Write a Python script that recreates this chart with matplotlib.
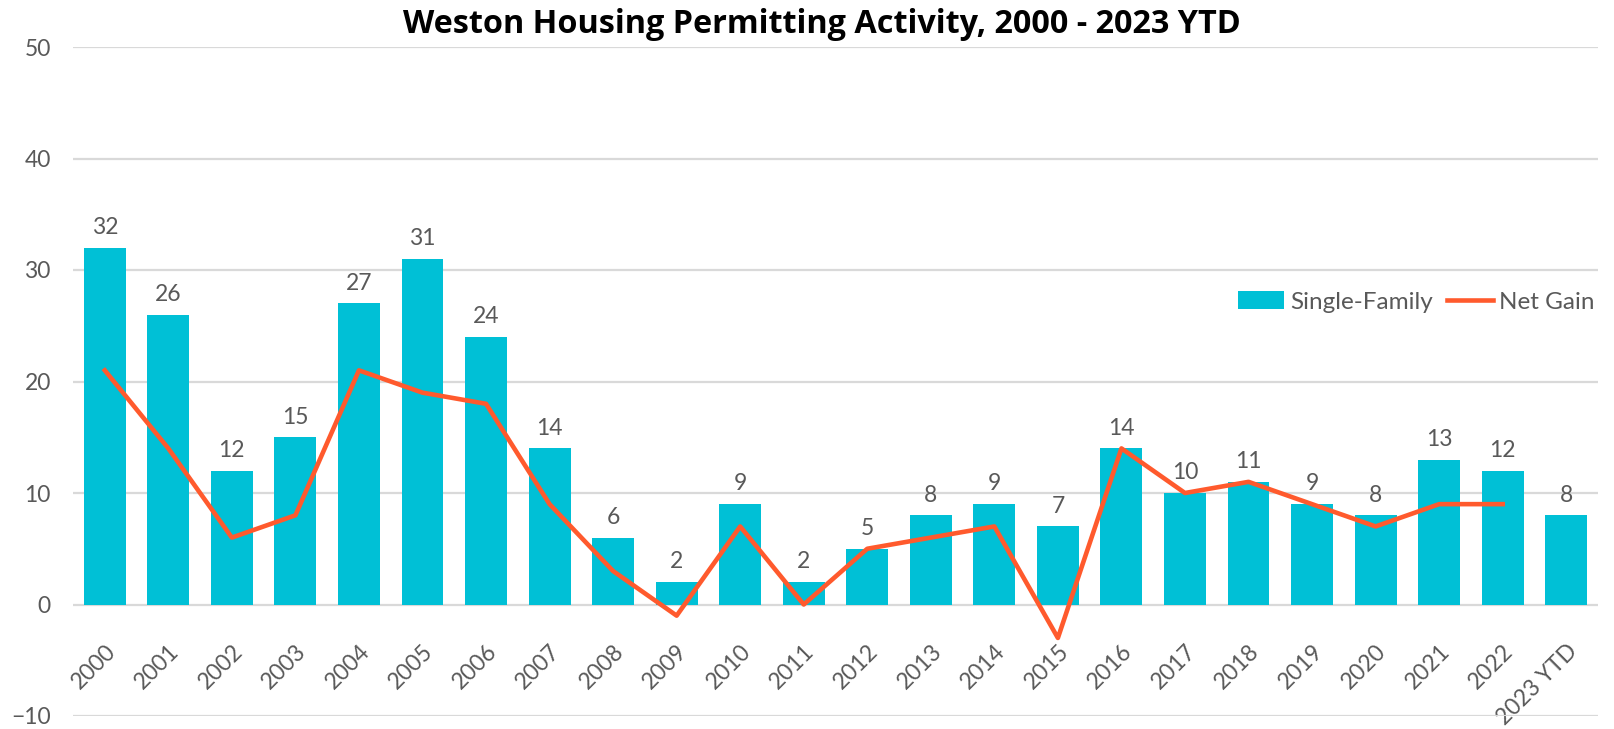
import matplotlib.pyplot as plt
import numpy as np

years = ["2000", "2001", "2002", "2003", "2004", "2005", "2006", "2007", "2008", "2009",
         "2010", "2011", "2012", "2013", "2014", "2015", "2016", "2017", "2018", "2019",
         "2020", "2021", "2022", "2023 YTD"]
single_family = [32, 26, 12, 15, 27, 31, 24, 14, 6, 2, 9, 2, 5, 8, 9, 7, 14, 10, 11, 9, 8, 13, 12, 8]
net_gain = [21, 14, 6, 8, 21, 19, 18, 9, 3, -1, 7, 0, 5, 6, 7, -3, 14, 10, 11, 9, 7, 9, 9, np.nan]

BAR_COLOR = "#00C0D6"
LINE_COLOR = "#FF5A2D"
TEXT_COLOR = "#595959"
GRID_COLOR = "#D9D9D9"

plt.rcParams["font.family"] = ["Lato", "DejaVu Sans"]

fig = plt.figure(figsize=(16.14, 7.29), dpi=100)
ax = fig.add_axes([73 / 1614, 13 / 729, (1598 - 73) / 1614, (716 - 47) / 729])

x = np.arange(len(years))
bars = ax.bar(x, single_family, width=0.66, color=BAR_COLOR, label="Single-Family", zorder=2)
line, = ax.plot(x, net_gain, color=LINE_COLOR, linewidth=3.3, label="Net Gain", zorder=3)

# value labels above bars
for xi, v in zip(x, single_family):
    ax.annotate(str(v), (xi, v), xytext=(0, 7), textcoords="offset points",
                ha="center", va="bottom", fontsize=16.5, color=TEXT_COLOR)

ax.set_xlim(-0.5, len(years) - 0.5)
ax.set_ylim(-10, 50)
ax.set_yticks(range(-10, 51, 10))
ax.grid(axis="y", color=GRID_COLOR, linewidth=1.6, zorder=0)
ax.set_axisbelow(True)
for s in ax.spines.values():
    s.set_visible(False)
# category labels hang from the zero line
ax.spines["bottom"].set_position(("data", 0))

ax.set_xticks(x)
ax.tick_params(axis="x", length=0, pad=26, labelsize=16.5, labelcolor=TEXT_COLOR)
ax.tick_params(axis="y", length=0, pad=16, labelsize=16.5, labelcolor=TEXT_COLOR)
ax.set_xticklabels(years, rotation=45, ha="right", va="top", rotation_mode="anchor")

fig.legend([bars, line], ["Single-Family", "Net Gain"], loc="center right",
           bbox_to_anchor=(1607 / 1614, (729 - 302) / 729), ncol=2, borderpad=0,
           frameon=False, fontsize=17.5, handlelength=1.9, handletextpad=0.25,
           columnspacing=0.6, labelcolor=TEXT_COLOR)

fig.text(822 / 1614, (729 - 33) / 729, "Weston Housing Permitting Activity, 2000 - 2023 YTD",
         ha="center", va="baseline", fontsize=23.3, fontweight="bold", color="black",
         family=["Open Sans", "DejaVu Sans"])

fig.savefig("out.png", dpi=100)
